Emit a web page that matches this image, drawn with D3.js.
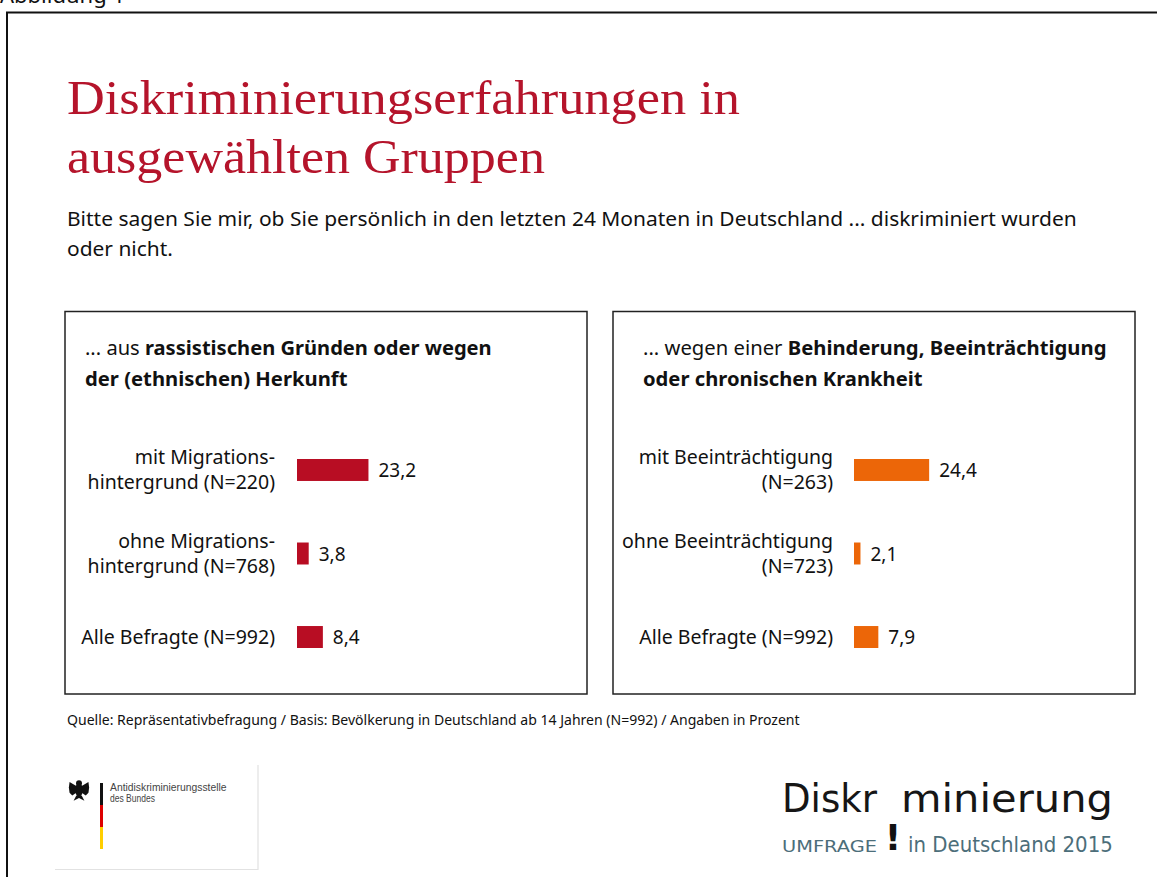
<!DOCTYPE html>
<html lang="de">
<head>
<meta charset="utf-8">
<script src="https://cdn.jsdelivr.net/npm/d3@7"></script>
<style>
  html, body { margin: 0; padding: 0; background: #fff; }
  svg { display: block; }
</style>
</head>
<body>
<div id="chart"></div>
<script>
// ------------------------------
// Data
// ------------------------------
const LEFT_HEAD  = [["... aus ", "rassistischen Gründen oder wegen"], ["", "der (ethnischen) Herkunft"]];
const LEFT_CATS  = [["mit Migrations-", "hintergrund (N=220)"], ["ohne Migrations-", "hintergrund (N=768)"], ["Alle Befragte (N=992)"]];
const LEFT_VALS  = [23.2, 3.8, 8.4];

const RIGHT_HEAD = [["... wegen einer ", "Behinderung, Beeinträchtigung"], ["", "oder chronischen Krankheit"]];
const RIGHT_CATS = [["mit Beeinträchtigung", "(N=263)"], ["ohne Beeinträchtigung", "(N=723)"], ["Alle Befragte (N=992)"]];
const RIGHT_VALS = [24.4, 2.1, 7.9];

const TITLE    = ["Diskriminierungserfahrungen in", "ausgewählten Gruppen"];
const SUBTITLE = ["Bitte sagen Sie mir, ob Sie persönlich in den letzten 24 Monaten in Deutschland ... diskriminiert wurden", "oder nicht."];
const SOURCE   = "Quelle: Repräsentativbefragung / Basis: Bevölkerung in Deutschland ab 14 Jahren (N=992) / Angaben in Prozent";

const W = 1157, H = 877;
const SANS = "'Noto Sans', 'Open Sans', sans-serif";
const de = d3.formatLocale({ decimal: ",", thousands: ".", grouping: [3], currency: ["", " €"] });
const fmt = de.format(".1f");

const svg = d3.select("#chart").append("svg")
  .attr("width", W)
  .attr("height", H);

// squeeze text horizontally about its anchor so it spans targetW
function squeeze(sel, targetW, ax) {
  const w = sel.node().getBBox().width;
  if (!w) return;
  const k = targetW / w;
  sel.attr("transform", `translate(${ax},0) scale(${k},1) translate(${-ax},0)`);
}

// caption above the frame (cut off at the top, as in the source)
svg.append("text")
  .attr("x", 0).attr("y", 3)
  .attr("font-family", SANS).attr("font-size", 22)
  .attr("fill", "#111")
  .text("Abbildung 1");

// outer frame (only top + left edges visible)
svg.append("path")
  .attr("d", `M7,${H} L7,12.5 L${W},12.5`)
  .attr("fill", "none")
  .attr("stroke", "#111")
  .attr("stroke-width", 2);

// Title
TITLE.forEach((t, i) => {
  const el = svg.append("text")
    .attr("x", 67).attr("y", 114 + i * 59)
    .attr("font-family", "'Liberation Serif', 'DejaVu Serif', serif")
    .attr("font-size", 49)
    .attr("fill", "#b5142b")
    .text(t);
  squeeze(el, i === 0 ? 673 : 478, 67);
});

// Subtitle
SUBTITLE.forEach((t, i) => {
  const el = svg.append("text")
    .attr("x", 67).attr("y", 226 + i * 30)
    .attr("font-family", SANS)
    .attr("font-size", 20)
    .attr("fill", "#111")
    .text(t);
  squeeze(el, i === 0 ? 1010 : 106, 67);
});

// ------------------------------
// Panels
// ------------------------------
const panels = [
  { x0: 65,  hx: 85,  head: LEFT_HEAD,  headW: [407, 263], cats: LEFT_CATS,  vals: LEFT_VALS,  color: "#b80d23", barX: 297, labelX: 275 },
  { x0: 613, hx: 643, head: RIGHT_HEAD, headW: [464, 280], cats: RIGHT_CATS, vals: RIGHT_VALS, color: "#ec6608", barX: 854, labelX: 833 }
];

const x = d3.scaleLinear().domain([0, 30]).range([0, 92.4]);
const y = d3.scaleBand().domain(d3.range(3)).range([459, 648]).paddingInner(0.737).paddingOuter(0);

panels.forEach(p => {
  const g = svg.append("g");

  g.append("rect")
    .attr("x", p.x0).attr("y", 311.5)
    .attr("width", 522).attr("height", 382.5)
    .attr("fill", "none")
    .attr("stroke", "#222")
    .attr("stroke-width", 1.5);

  // header (normal + bold parts)
  p.head.forEach((parts, i) => {
    const t = g.append("text")
      .attr("x", p.hx).attr("y", 355 + i * 31)
      .attr("font-family", SANS).attr("font-size", 20)
      .attr("fill", "#111");
    if (parts[0]) t.append("tspan").attr("font-weight", 400).text(parts[0]);
    t.append("tspan").attr("font-weight", 700).text(parts[1]);
    squeeze(t, p.headW[i], p.hx);
  });

  // bars
  g.selectAll("rect.bar")
    .data(p.vals)
    .join("rect")
    .attr("class", "bar")
    .attr("x", p.barX)
    .attr("y", (d, i) => y(i))
    .attr("width", d => x(d))
    .attr("height", y.bandwidth())
    .attr("fill", p.color);

  // value labels
  g.selectAll("text.val")
    .data(p.vals)
    .join("text")
    .attr("class", "val")
    .attr("x", d => p.barX + x(d) + 10)
    .attr("y", (d, i) => y(i) + y.bandwidth() / 2 + 7)
    .attr("font-family", SANS).attr("font-size", 19)
    .attr("fill", "#111")
    .text(d => fmt(d));

  // category labels
  p.cats.forEach((lines, i) => {
    const cy = y(i) + y.bandwidth() / 2;
    lines.forEach((ln, j) => {
      const base = lines.length === 1 ? cy + 7 : cy - 6 + j * 25;
      g.append("text")
        .attr("x", p.labelX).attr("y", base)
        .attr("text-anchor", "end")
        .attr("font-family", SANS).attr("font-size", 19.5)
        .attr("fill", "#111")
        .text(ln);
    });
  });
});

// Source
const src = svg.append("text")
  .attr("x", 67).attr("y", 725)
  .attr("font-family", SANS).attr("font-size", 13.5)
  .attr("fill", "#111")
  .text(SOURCE);
squeeze(src, 733, 67);

// ------------------------------
// Left logo (Antidiskriminierungsstelle)
// ------------------------------
const lg = svg.append("g");
lg.append("path")
  .attr("d", "M258,765 L258,869.5 L55,869.5")
  .attr("fill", "none")
  .attr("stroke", "#e2e2e2")
  .attr("stroke-width", 1.2);

// simplified eagle
const eg = lg.append("g").attr("transform", "translate(79,790) scale(1.35)").attr("fill", "#111");
eg.append("circle").attr("cx", 0).attr("cy", -5).attr("r", 2.2);
eg.append("ellipse").attr("cx", 0).attr("cy", 0).attr("rx", 2.8).attr("ry", 5);
eg.append("path").attr("d", "M-2,-3 L-7,-6 L-7.5,-2 L-7,2 L-5,4 L-2,2 Z");
eg.append("path").attr("d", "M2,-3 L7,-6 L7.5,-2 L7,2 L5,4 L2,2 Z");
eg.append("path").attr("d", "M-2,4 L-4,8 L0,6 L4,8 L2,4 Z");

const stripe = [["#111", 783, 805], ["#dd0000", 805, 827], ["#ffce00", 827, 849]];
lg.selectAll("rect.flag")
  .data(stripe)
  .join("rect")
  .attr("class", "flag")
  .attr("x", 100).attr("y", d => d[1])
  .attr("width", 3).attr("height", d => d[2] - d[1])
  .attr("fill", d => d[0]);

["Antidiskriminierungsstelle", "des Bundes"].forEach((t, i) => {
  const el = lg.append("text")
    .attr("x", 110).attr("y", 791 + i * 11)
    .attr("font-family", "'Liberation Sans', Arial, sans-serif")
    .attr("font-size", 10.5)
    .attr("fill", "#444")
    .text(t);
  squeeze(el, i === 0 ? 117 : 45, 110);
});

// ------------------------------
// Right logo (Diskr!minierung)
// ------------------------------
const rg = svg.append("g").attr("font-family", "'DejaVu Sans', sans-serif");
const d1 = rg.append("text").attr("x", 782).attr("y", 812)
  .attr("font-size", 39).attr("fill", "#161616").text("Diskr");
squeeze(d1, 96, 782);
const d2 = rg.append("text").attr("x", 901).attr("y", 812)
  .attr("font-size", 39).attr("fill", "#161616").text("minierung");
squeeze(d2, 212, 901);
rg.append("text").attr("x", 893).attr("y", 850)
  .attr("text-anchor", "middle")
  .attr("font-size", 36).attr("font-weight", 700)
  .attr("fill", "#111").text("!");
const u1 = rg.append("text").attr("x", 782).attr("y", 852)
  .attr("font-size", 16)
  .attr("fill", "#4c6e7a").text("UMFRAGE");
squeeze(u1, 95, 782);
const u2 = rg.append("text").attr("x", 908).attr("y", 852)
  .attr("font-size", 21)
  .attr("fill", "#4c6e7a").text("in Deutschland 2015");
squeeze(u2, 205, 908);
</script>
</body>
</html>
